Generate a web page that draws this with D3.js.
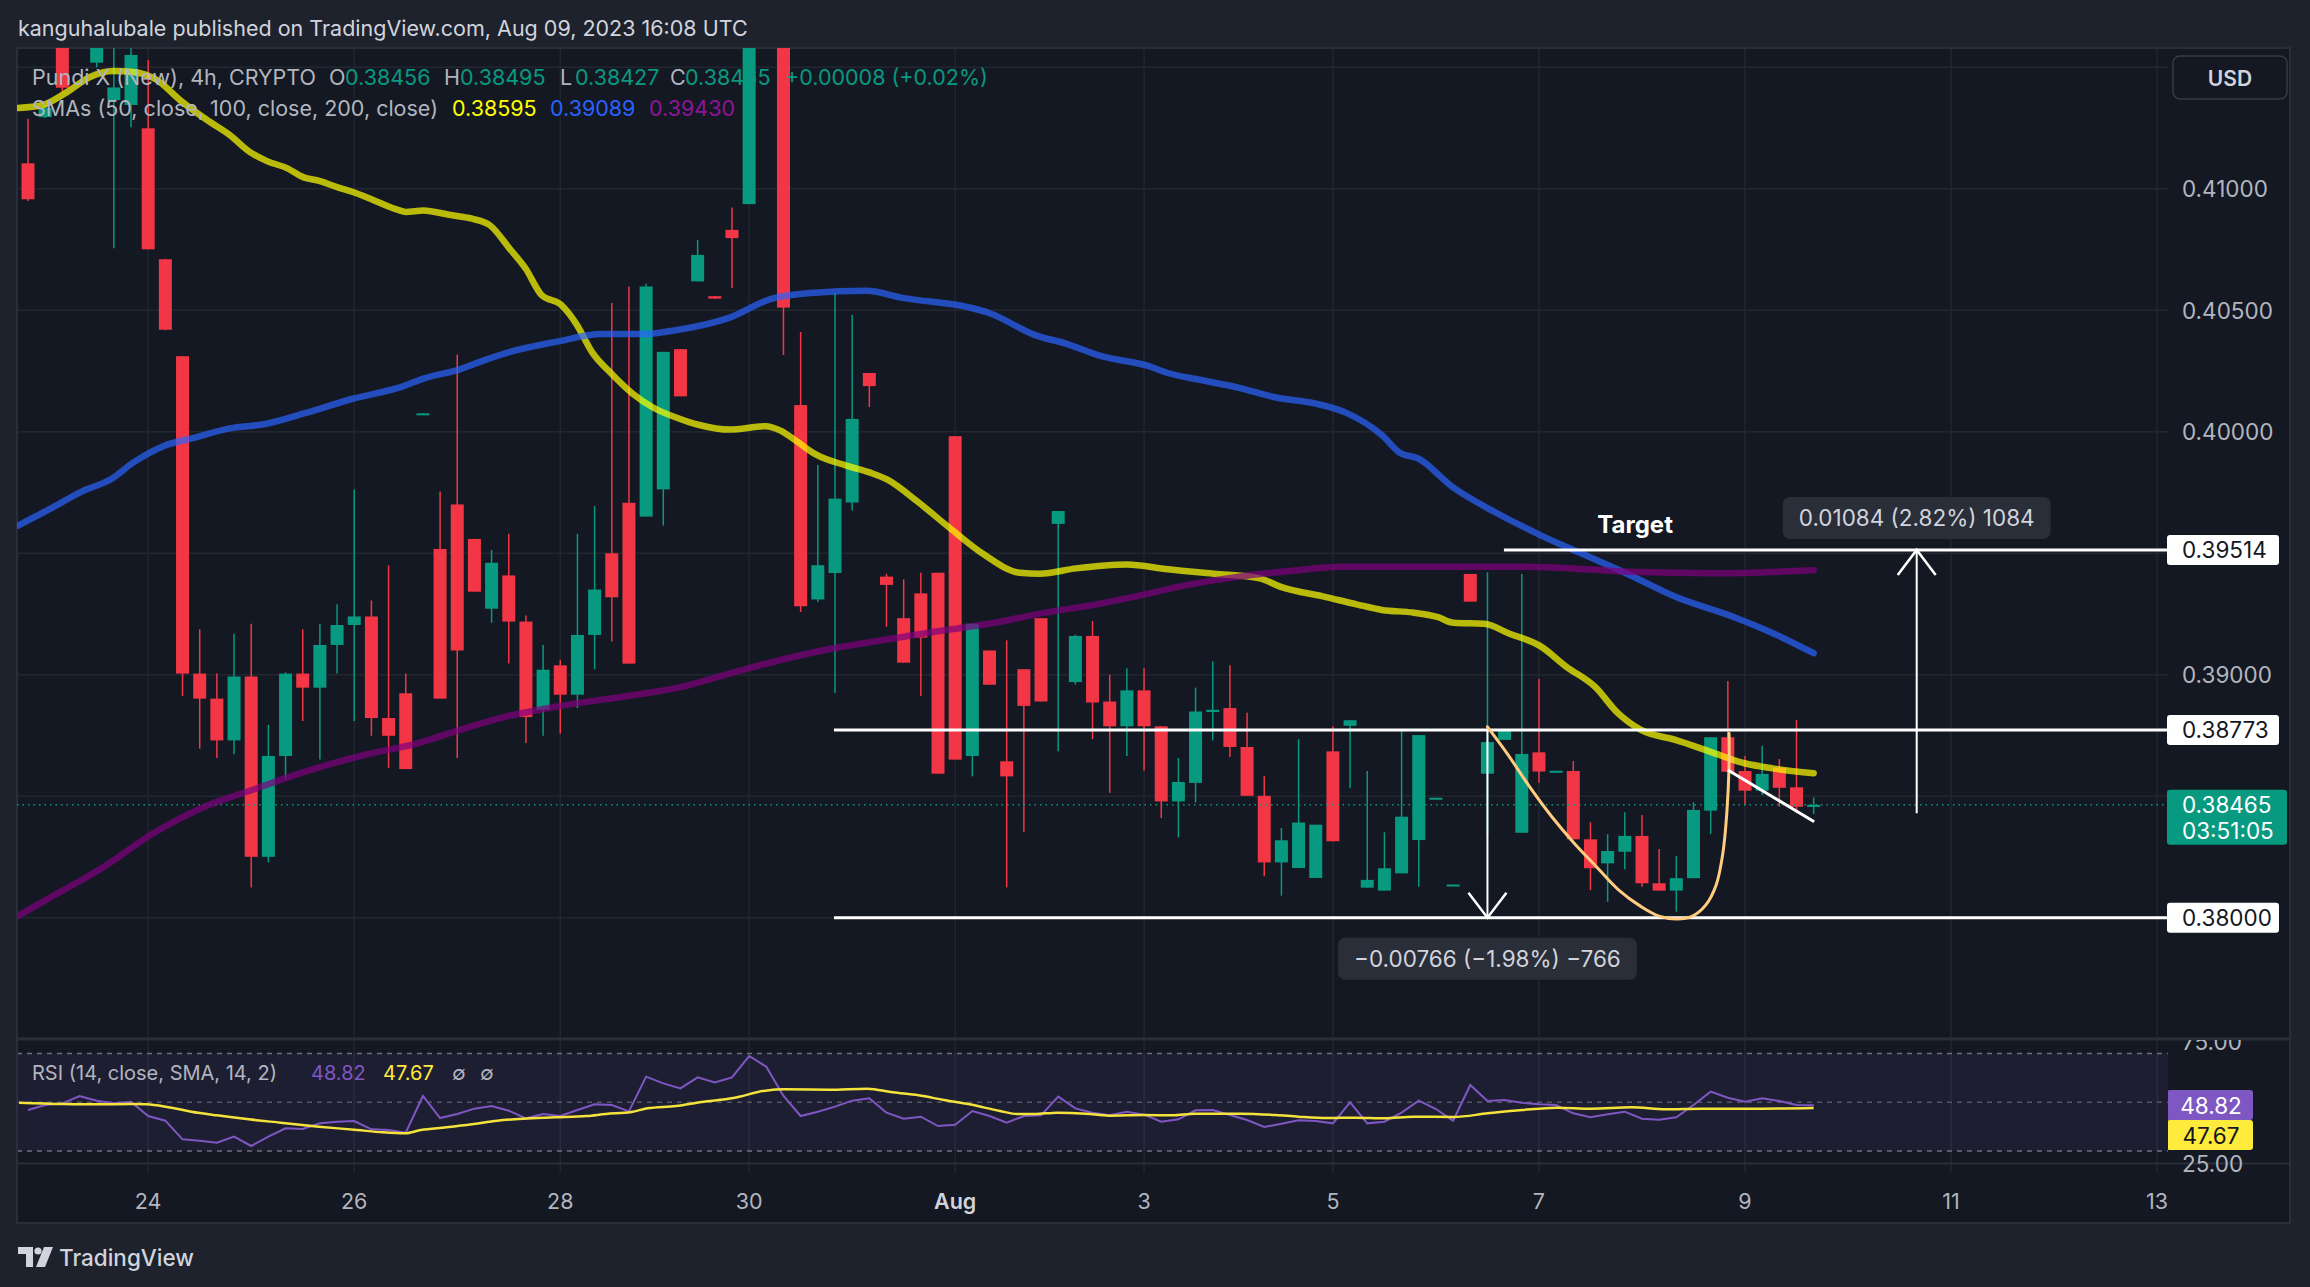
<!DOCTYPE html>
<html><head><meta charset="utf-8">
<script src="https://d3js.org/d3.v7.min.js"></script>
<style>
html,body{margin:0;padding:0;background:#1e222d;overflow:hidden;}
svg{display:block;}
text{font-family:Inter, Roboto, "Noto Sans", sans-serif;}
</style></head><body>
<svg id="c" width="2310" height="1287"></svg>
<script>
// ---------------- DATA ----------------
const opens=[0.41105,0.41295,0.4175,0.4200,0.41519,0.41365,0.41345,0.41249,0.40710,0.40311,
0.39005,0.38902,0.38730,0.38993,0.38251,0.38666,0.39005,0.38947,0.39123,0.39205,
0.39240,0.38822,0.38924,0.40070,0.39518,0.39701,0.39559,0.39272,0.39409,0.39219,
0.38856,0.39039,0.38918,0.39164,0.39500,0.39708,0.39651,0.39763,0.40340,0.40619,
0.40558,0.40831,0.40937,0.4185,0.4200,0.40110,0.39310,0.39419,0.39709,0.40242,
0.39404,0.39233,0.39335,0.39420,0.39982,0.38666,0.39100,0.38644,0.39023,0.39233,
0.39621,0.38970,0.39160,0.38890,0.38788,0.38936,0.38788,0.38479,0.38555,0.38847,
0.38863,0.38703,0.38502,0.38228,0.38205,0.38164,0.38685,0.38790,0.38124,0.38112,
0.38183,0.38320,0.38490,0.38133,0.39415,0.38593,0.38732,0.38350,0.38681,0.38601,
0.38604,0.38323,0.38224,0.38272,0.38337,0.38142,0.38112,0.38163,0.38441,0.38743,
0.38604,0.38523,0.38618,0.38537,0.38456];
const highs=[0.41288,0.41345,0.4180,0.4205,0.4170,0.4170,0.4162,0.41530,0.40712,0.40311,
0.39187,0.39005,0.39169,0.39210,0.38794,0.39010,0.39187,0.39210,0.39290,0.39763,
0.39306,0.39450,0.39005,0.40076,0.39754,0.40318,0.39560,0.39514,0.39580,0.39244,
0.39123,0.39062,0.39580,0.39694,0.40530,0.40598,0.40609,0.40329,0.40340,0.40790,
0.40558,0.40923,0.4190,0.4220,0.4205,0.40411,0.39863,0.40571,0.40482,0.40242,
0.39416,0.39393,0.39420,0.39420,0.39982,0.39210,0.39100,0.39142,0.39023,0.39233,
0.39674,0.39165,0.39221,0.39000,0.39027,0.39027,0.38788,0.38658,0.38947,0.39055,
0.39039,0.38844,0.38582,0.38370,0.38735,0.38383,0.38788,0.38813,0.38604,0.38352,
0.38773,0.38752,0.38494,0.38137,0.39415,0.39422,0.38773,0.39415,0.38983,0.38605,
0.38645,0.38393,0.38344,0.38434,0.38423,0.38283,0.38254,0.38475,0.38743,0.38975,
0.38666,0.38708,0.38654,0.38814,0.38495];
const lows=[0.40950,0.41290,0.41400,0.4185,0.41500,0.40755,0.41253,0.40751,0.40418,0.38913,
0.38696,0.38658,0.38673,0.38125,0.38228,0.38570,0.38810,0.38651,0.39005,0.38810,
0.38749,0.38617,0.38612,0.40070,0.38902,0.38658,0.39342,0.39214,0.39046,0.38719,
0.38749,0.38758,0.38863,0.39023,0.39137,0.39046,0.39651,0.39614,0.40146,0.40619,
0.40548,0.40592,0.40937,0.4180,0.40316,0.39258,0.39300,0.38925,0.39676,0.40102,
0.39198,0.39050,0.38913,0.38593,0.38651,0.38582,0.38959,0.38125,0.38354,0.38890,
0.38685,0.38960,0.38735,0.38514,0.38666,0.38605,0.38411,0.38331,0.38474,0.38730,
0.38662,0.38502,0.38171,0.38091,0.38205,0.38164,0.38315,0.38533,0.38124,0.38112,
0.38183,0.38128,0.38490,0.38133,0.39301,0.38340,0.38732,0.38350,0.38556,0.38601,
0.38323,0.38114,0.38066,0.38200,0.38128,0.38112,0.38025,0.38163,0.38345,0.38601,
0.38464,0.38505,0.38457,0.38430,0.38427];
const closes=[0.40957,0.41333,0.41416,0.4190,0.4166,0.41417,0.41551,0.40751,0.40420,0.39005,
0.38902,0.38730,0.38993,0.38251,0.38666,0.39005,0.38947,0.39123,0.39205,0.39240,
0.38822,0.38749,0.38612,0.40076,0.38902,0.39100,0.39342,0.39461,0.39219,0.38826,
0.39021,0.38918,0.39164,0.39351,0.39319,0.39046,0.40598,0.40329,0.40146,0.40728,
0.40548,0.40797,0.4185,0.4210,0.40511,0.39282,0.39451,0.39725,0.40053,0.40188,
0.39370,0.39050,0.39153,0.38593,0.38651,0.39210,0.38959,0.38582,0.38872,0.38890,
0.39674,0.39160,0.38886,0.38788,0.38936,0.38788,0.38479,0.38559,0.38849,0.38856,
0.38703,0.38502,0.38228,0.38319,0.38392,0.38383,0.38315,0.38813,0.38156,0.38204,
0.38416,0.38752,0.38494,0.38137,0.39301,0.38723,0.38773,0.38674,0.38602,0.38605,
0.38323,0.38204,0.38275,0.38337,0.38142,0.38112,0.38163,0.38444,0.38743,0.38601,
0.38523,0.38592,0.38535,0.38457,0.38465];

// SMA samples: [bar index, value]
const sma50=[[-0.58,0.41333],[0.87,0.41345],[2.27,0.41398],[3.61,0.41460],[4.95,0.41485],[6.12,0.41481],[7.51,0.41448],[8.85,0.41365],[10.43,0.41283],[11.76,0.41221],[12.93,0.41151],[13.92,0.41114],[15.08,0.41085],[16.02,0.41048],[17.0,0.41032],[18.0,0.41007],[18.93,0.40987],[20.1,0.40954],[21.55,0.40913],[22.0,0.40905],[23.03,0.40911],[24.52,0.40893],[25.86,0.40877],[26.9,0.40850],[28.07,0.40752],[28.98,0.40672],[29.92,0.40562],[31.04,0.40523],[31.94,0.40443],[32.84,0.40329],[34.0,0.40238],[35.2,0.40158],[36.4,0.40100],[37.9,0.40055],[39.1,0.40028],[40.86,0.40009],[42.94,0.40023],[43.83,0.40005],[44.73,0.39963],[45.88,0.39907],[47.66,0.39861],[49.0,0.39833],[50.03,0.39804],[51.82,0.39712],[53.6,0.39609],[55.68,0.39495],[57.76,0.39420],[58.94,0.39416],[61.04,0.39438],[64.0,0.39454],[66.38,0.39434],[69.06,0.39416],[71.73,0.39397],[72.92,0.39363],[75.6,0.39320],[77.37,0.39290],[78.86,0.39267],[80.65,0.39256],[82.12,0.39237],[83.02,0.39214],[84.8,0.39210],[86.29,0.39169],[88.06,0.39119],[89.6,0.39033],[91.26,0.38951],[92.6,0.38842],[93.94,0.38773],[95.95,0.38732],[97.96,0.38684],[99.97,0.38636],[101.6,0.38615],[104.0,0.38595]];
const sma100=[[-0.59,0.39614],[1.34,0.39685],[3.12,0.39754],[4.9,0.39808],[6.1,0.39872],[7.88,0.39941],[9.66,0.39975],[11.74,0.40014],[13.82,0.40032],[16.19,0.40078],[18.87,0.40135],[21.84,0.40187],[23.03,0.40219],[25.1,0.40256],[26.6,0.40295],[28.08,0.40329],[30.75,0.40370],[33.43,0.40402],[35.81,0.40402],[37.89,0.40420],[40.86,0.40470],[43.24,0.40546],[45.58,0.40571],[48.85,0.40580],[50.93,0.40551],[54.79,0.40512],[55.98,0.40489],[58.65,0.40398],[60.44,0.40363],[62.52,0.40311],[65.19,0.40272],[66.38,0.40242],[68.16,0.40215],[70.54,0.40181],[72.62,0.40142],[75.0,0.40116],[76.78,0.40078],[78.86,0.39986],[79.91,0.39913],[80.94,0.39891],[83.02,0.39770],[85.4,0.39671],[88.07,0.39575],[90.39,0.39502],[93.28,0.39411],[95.95,0.39321],[99.3,0.39239],[101.63,0.39171],[104.0,0.39089]];
const sma200=[[-0.76,0.38000],[1.05,0.38074],[4.31,0.38205],[7.28,0.38347],[10.25,0.38456],[13.22,0.38530],[15.0,0.38575],[17.39,0.38628],[19.76,0.38673],[22.74,0.38719],[25.1,0.38772],[27.49,0.38822],[31.04,0.38872],[34.92,0.38913],[37.89,0.38947],[40.86,0.39005],[43.83,0.39061],[46.77,0.39107],[49.74,0.39142],[52.71,0.39176],[56.28,0.39214],[59.25,0.39256],[62.22,0.39290],[64.59,0.39324],[67.56,0.39370],[70.53,0.39404],[73.5,0.39427],[76.47,0.39445],[79.44,0.39445],[82.41,0.39445],[85.38,0.39445],[88.35,0.39443],[93.28,0.39424],[98.29,0.39418],[104.0,0.39430]];

const rsiValues=[46.84,48.89,49.57,52.58,50.67,49.57,50.26,44.38,42.47,34.82,
34.27,33.45,35.91,32.09,35.91,39.33,39.05,41.38,42.06,42.33,
38.92,38.64,37.55,52.58,43.56,45.20,47.39,48.48,46.57,43.43,
45.20,44.38,46.84,49.16,48.89,46.29,60.50,57.77,55.72,60.23,
58.18,60.23,68.97,64.60,52.58,44.38,46.16,48.21,50.67,51.62,
45.75,43.29,44.11,40.28,40.83,46.43,44.38,41.65,44.38,44.66,
52.31,47.52,45.75,44.66,46.16,44.93,42.06,43.02,46.70,46.84,
44.79,42.74,39.87,41.24,42.61,42.33,41.38,49.98,41.38,42.06,
45.75,50.67,47.25,42.47,57.09,50.53,50.94,49.85,49.16,48.89,
45.48,43.84,45.07,46.16,43.29,42.88,43.84,48.89,54.36,51.90,
50.26,51.62,50.53,48.89,48.82];
const rsiSma=[[-0.52,49.85],[2.08,49.30],[3.94,49.16],[5.98,49.30],[6.91,49.16],[8.03,48.21],[9.51,46.16],[11.0,44.66],[12.86,43.02],[14.71,41.65],[16.94,40.01],[19.17,38.65],[20.66,37.69],[21.96,37.28],[22.88,38.65],[24.37,39.74],[25.85,40.97],[27.34,42.47],[28.83,43.29],[30.68,43.84],[32.54,44.38],[33.66,45.20],[35.14,46.02],[36.07,47.52],[37.74,48.48],[39.23,50.12],[41.08,51.76],[42.94,54.77],[44.05,55.31],[46.66,55.18],[48.88,55.59],[50.37,54.08],[51.86,52.85],[53.34,50.94],[54.83,49.16],[56.61,46.43],[57.61,45.20],[58.61,45.20],[59.95,45.75],[61.62,45.34],[62.96,44.52],[64.97,44.79],[66.64,44.66],[67.98,45.34],[70.65,45.34],[72.66,44.79],[74.0,44.11],[75.67,43.56],[77.34,43.70],[79.01,43.43],[80.68,44.11],[83.02,43.97],[85.03,45.48],[87.03,46.84],[89.04,47.80],[91.05,47.39],[93.39,47.93],[95.39,47.11],[97.4,47.39],[100.08,47.39],[104.0,47.67]];

const dayTickBars=[7,19,31,42,54,65,76,88,100,112,124];
const dayTickLabels=["24","26","28","30","Aug","3","5","7","9","11","13"];
const priceTicks=[0.380,0.385,0.390,0.395,0.400,0.405,0.410,0.415];
const rsiLevels=[70,50,30];
const rsiAxisTicks=[75,25];

// drawings
const hLevels=[0.39514,0.38773,0.38000];
const hLevelStartBars=[85.96,46.94,46.94];
const cupCurve=[[85.0,0.38786],[86.14,0.38677],[87.45,0.38540],[88.75,0.38416],[90.05,0.38307],[91.35,0.38210],[92.65,0.38114],[93.95,0.38046],[94.99,0.38007],[96.03,0.37995],[96.94,0.38007],[97.72,0.38053],[98.32,0.38135],[98.71,0.38265],[98.94,0.38430],[99.07,0.38622],[99.07,0.38759]];
const flagLine=[[99.0,0.38608],[104.03,0.38395]];
const measureBars=[85,110];
const measureFrom=[0.38773,0.38430];
const measureTo=[0.38000,0.39514];
const measureLabels=["\u22120.00766 (\u22121.98%) \u2212766","0.01084 (2.82%) 1084"];
const lastPrice=0.38465, lastOpen=0.38456, lastHigh=0.38495, lastLow=0.38427;
const smaLast=["0.38595","0.39089","0.39430"];
const rsiLast=[48.82,47.67];

// ---------------- DRAW ----------------
const W=2310,H=1287;
const P={l:17,r:2168,t:48,b:1038};
const R={t:1040,b:1163};
const AX={l:2168,r:2290};
const TEAL="#089981",RED="#f23645",BG="#141823",OUT="#1e222d",GRID="#22262f",TXT="#b2b5be";
const AXFS=22.5;
const svg=d3.select("#c");
const x=d3.scaleLinear().domain([0,124]).range([28,28+124*17.17]);
const y=d3.scaleLinear().domain([0.38,0.41]).range([917.8,188.8]);
const yr=d3.scaleLinear().domain([25,75]).range([1163.3,1041.3]);

svg.append("rect").attr("width",W).attr("height",H).attr("fill",OUT);
svg.append("rect").attr("x",17).attr("y",48).attr("width",AX.r-17).attr("height",1223-48).attr("fill",BG);

const defs=svg.append("defs");
defs.append("clipPath").attr("id","cp").append("rect").attr("x",P.l).attr("y",P.t).attr("width",P.r-P.l).attr("height",P.b-P.t);
defs.append("clipPath").attr("id","cr").append("rect").attr("x",P.l).attr("y",R.t).attr("width",P.r-P.l).attr("height",R.b-R.t);
defs.append("clipPath").attr("id","cx").append("rect").attr("x",P.l).attr("y",1163).attr("width",P.r-P.l).attr("height",60);
defs.append("clipPath").attr("id","ca").append("rect").attr("x",AX.l).attr("y",R.t).attr("width",AX.r-AX.l).attr("height",150);

// grid
const grid=svg.append("g");
grid.selectAll("line.h").data(priceTicks).join("line")
  .attr("x1",P.l).attr("x2",P.r).attr("y1",d=>y(d)).attr("y2",d=>y(d))
  .attr("stroke",GRID).attr("stroke-width",1.5);
grid.selectAll("line.v").data(dayTickBars).join("line")
  .attr("x1",d=>x(d)).attr("x2",d=>x(d)).attr("y1",P.t).attr("y2",1173)
  .attr("stroke",GRID).attr("stroke-width",1.5);

// RSI band
svg.append("rect").attr("x",P.l).attr("width",P.r-P.l).attr("y",yr(70)).attr("height",yr(30)-yr(70))
  .attr("fill","#7e57c2").attr("fill-opacity",0.1);
svg.append("g").selectAll("line").data(rsiLevels).join("line")
  .attr("x1",P.l).attr("x2",P.r).attr("y1",d=>yr(d)).attr("y2",d=>yr(d))
  .attr("stroke","#787b86").attr("stroke-width",1.5).attr("stroke-dasharray","5,5").attr("opacity",d=>d===50?0.6:0.9);

// separators & frame
svg.append("line").attr("x1",P.l).attr("x2",AX.r).attr("y1",1039).attr("y2",1039).attr("stroke","#2a2e39").attr("stroke-width",3);
svg.append("line").attr("x1",P.l).attr("x2",AX.r).attr("y1",1163.5).attr("y2",1163.5).attr("stroke","#2a2e39").attr("stroke-width",2);
svg.append("rect").attr("x",17).attr("y",48).attr("width",AX.r-17).attr("height",1223-48).attr("fill","none").attr("stroke","#2a2e39").attr("stroke-width",2);

// candles
const price=svg.append("g").attr("clip-path","url(#cp)");
const idx=d3.range(opens.length);
const cg=price.append("g");
cg.selectAll("line").data(idx).join("line")
  .attr("x1",i=>x(i)).attr("x2",i=>x(i)).attr("y1",i=>y(highs[i])).attr("y2",i=>y(lows[i]))
  .attr("stroke",i=>closes[i]>=opens[i]?TEAL:RED).attr("stroke-width",1.5);
cg.selectAll("rect").data(idx).join("rect")
  .attr("x",i=>x(i)-6.5).attr("width",13)
  .attr("y",i=>y(Math.max(opens[i],closes[i])))
  .attr("height",i=>Math.max(2,Math.abs(y(opens[i])-y(closes[i]))))
  .attr("fill",i=>closes[i]>=opens[i]?TEAL:RED);

// last price dotted line
price.append("line").attr("x1",P.l).attr("x2",P.r).attr("y1",y(lastPrice)).attr("y2",y(lastPrice))
  .attr("stroke",TEAL).attr("stroke-width",1.5).attr("stroke-dasharray","1.5,4");

// SMAs
const lineP=d3.line().x(d=>x(d[0])).y(d=>y(d[1])).curve(d3.curveMonotoneX);
[[sma50,"#ffff00"],[sma100,"#2962ff"],[sma200,"#800080"]].forEach(([d,c])=>{
  price.append("path").attr("d",lineP(d)).attr("fill","none").attr("stroke",c)
    .attr("stroke-opacity",0.7).attr("stroke-width",6.5).attr("stroke-linejoin","round").attr("stroke-linecap","round");
});

// drawings
const dr=price.append("g");
hLevels.forEach((v,k)=>{
  dr.append("line").attr("x1",x(hLevelStartBars[k])).attr("x2",P.r).attr("y1",y(v)).attr("y2",y(v))
    .attr("stroke","#ffffff").attr("stroke-width",3);
});
dr.append("path").attr("d",d3.line().x(d=>x(d[0])).y(d=>y(d[1])).curve(d3.curveCatmullRom)(cupCurve))
  .attr("fill","none").attr("stroke","#ffcc80").attr("stroke-width",3).attr("stroke-linecap","round");
dr.append("path").attr("d",d3.line().x(d=>x(d[0])).y(d=>y(d[1]))(flagLine))
  .attr("fill","none").attr("stroke","#ffffff").attr("stroke-width",3);
measureBars.forEach((b,k)=>{
  const xx=x(b), y0=y(measureFrom[k]), y1=y(measureTo[k]);
  dr.append("line").attr("x1",xx).attr("x2",xx).attr("y1",y0).attr("y2",y1).attr("stroke","#fff").attr("stroke-width",2);
  const dir=y1>y0?-1:1;
  dr.append("path").attr("d",`M${xx-19},${y1+dir*25}L${xx},${y1}L${xx+19},${y1+dir*25}`)
    .attr("fill","none").attr("stroke","#fff").attr("stroke-width",2.5);
});
// measure labels
const ml=svg.append("g");
measureBars.forEach((b,k)=>{
  const xx=x(b);
  const up=measureTo[k]>measureFrom[k];
  const cy= up ? y(measureTo[k])-32 : y(measureTo[k])+41;
  const t=ml.append("text").attr("x",xx).attr("y",cy).attr("text-anchor","middle").attr("dominant-baseline","central")
    .attr("fill","#d1d4dc").attr("font-size",22.5).text(measureLabels[k]);
  const w=t.node().getComputedTextLength()+32;
  ml.insert("rect","text").attr("x",xx-w/2).attr("y",cy-21).attr("width",w).attr("height",42).attr("rx",7).attr("fill","#2a2e39");
});
svg.append("text").attr("x",x(93.6)).attr("y",y(hLevels[0])-17).attr("text-anchor","middle")
  .attr("fill","#ffffff").attr("font-size",24).attr("font-weight",700).text("Target");

// RSI
const rg=svg.append("g").attr("clip-path","url(#cr)");
rg.append("path").attr("d",d3.line().x((d,i)=>x(i)).y(d=>yr(d))(rsiValues))
  .attr("fill","none").attr("stroke","#7e57c2").attr("stroke-width",2);
rg.append("path").attr("d",d3.line().x(d=>x(d[0])).y(d=>yr(d[1])).curve(d3.curveMonotoneX)(rsiSma))
  .attr("fill","none").attr("stroke","#f5e33b").attr("stroke-width",2.5);

// price axis: labels hidden where a marker box sits (as the platform does)
const ax=svg.append("g");
const boxYs=hLevels.map(v=>y(v)).concat([y(lastPrice)+10]);
const visibleTicks=priceTicks.filter(t=>y(t)>105 && boxYs.every(b=>Math.abs(y(t)-b)>(b===y(lastPrice)+10?33:24)));
ax.selectAll("text").data(visibleTicks).join("text")
  .attr("x",2182).attr("y",d=>y(d)).attr("dominant-baseline","central")
  .attr("fill",TXT).attr("font-size",AXFS).text(d=>d.toFixed(5));
hLevels.forEach(v=>{
  ax.append("rect").attr("x",2167).attr("y",y(v)-15).attr("width",112).attr("height",30).attr("rx",3).attr("fill","#ffffff");
  ax.append("text").attr("x",2182).attr("y",y(v)).attr("dominant-baseline","central").attr("fill","#131722").attr("font-size",AXFS).text(v.toFixed(5));
});
ax.append("rect").attr("x",2167).attr("y",y(lastPrice)-15).attr("width",120).attr("height",55).attr("rx",3).attr("fill",TEAL);
ax.append("text").attr("x",2182).attr("y",y(lastPrice)).attr("dominant-baseline","central").attr("fill","#ffffff").attr("font-size",AXFS).text(lastPrice.toFixed(5));
ax.append("text").attr("x",2182).attr("y",y(lastPrice)+26).attr("dominant-baseline","central").attr("fill","#ffffff").attr("font-size",AXFS).text("03:51:05");
ax.append("rect").attr("x",2173).attr("y",56).attr("width",114).attr("height",43).attr("rx",7).attr("fill",BG).attr("stroke","#363a45").attr("stroke-width",1.5);
ax.append("text").attr("x",2230).attr("y",78).attr("text-anchor","middle").attr("dominant-baseline","central").attr("fill","#d1d4dc").attr("font-size",21).attr("font-weight",600).text("USD");

// RSI axis
const ra=svg.append("g").attr("clip-path","url(#ca)");
ra.selectAll("text").data(rsiAxisTicks).join("text").attr("x",2182).attr("y",d=>yr(d)).attr("dominant-baseline","central")
  .attr("fill",TXT).attr("font-size",AXFS).text(d=>d.toFixed(2));
ra.append("rect").attr("x",2167).attr("y",1090).attr("width",86).attr("height",30).attr("rx",3).attr("fill","#7e57c2");
ra.append("text").attr("x",2211).attr("y",1105).attr("text-anchor","middle").attr("dominant-baseline","central").attr("fill","#fff").attr("font-size",AXFS).text(rsiLast[0].toFixed(2));
ra.append("rect").attr("x",2167).attr("y",1120).attr("width",86).attr("height",30).attr("rx",3).attr("fill","#ffeb3b");
ra.append("text").attr("x",2211).attr("y",1135).attr("text-anchor","middle").attr("dominant-baseline","central").attr("fill","#131722").attr("font-size",AXFS).text(rsiLast[1].toFixed(2));

// x axis
svg.append("g").attr("clip-path","url(#cx)").selectAll("text").data(dayTickBars).join("text")
  .attr("x",d=>x(d)).attr("y",1201).attr("text-anchor","middle").attr("dominant-baseline","central")
  .attr("font-size",21.5).attr("fill",(d,i)=>dayTickLabels[i]==="Aug"?"#d1d4dc":TXT)
  .attr("font-weight",(d,i)=>dayTickLabels[i]==="Aug"?600:400)
  .text((d,i)=>dayTickLabels[i]);

// header & legends
svg.append("text").attr("x",18).attr("y",36).attr("fill","#d1d4dc").attr("font-size",21.5)
  .text("kanguhalubale published on TradingView.com, Aug 09, 2023 16:08 UTC");
function seg(yb,fs,parts){
  const t=svg.append("text").attr("y",yb).attr("font-size",fs);
  parts.forEach(p=>t.append("tspan").attr("x",p[0]).attr("fill",p[2]).text(p[1]));
}
const chg=lastPrice-0.38457;
seg(85,21.5,[[32,"Pundi X (New), 4h, CRYPTO",TXT],[329,"O",TXT],[345,lastOpen.toFixed(5),TEAL],[444,"H",TXT],[460,lastHigh.toFixed(5),TEAL],
  [560,"L",TXT],[575,lastLow.toFixed(5),TEAL],[670,"C",TXT],[685,lastPrice.toFixed(5),TEAL],[785,"+"+chg.toFixed(5)+" (+0.02%)",TEAL]]);
seg(116,21.5,[[32,"SMAs (50, close, 100, close, 200, close)",TXT],[452,smaLast[0],"#ffff00"],[550,smaLast[1],"#2962ff"],[649,smaLast[2],"#8e1599"]]);
seg(1080,20,[[32,"RSI (14, close, SMA, 14, 2)",TXT],[311,rsiLast[0].toFixed(2),"#7e57c2"],[383,rsiLast[1].toFixed(2),"#ffeb3b"],[452,"\u2205",TXT],[480,"\u2205",TXT]]);

// footer logo
const lg=svg.append("g").attr("fill","#d1d4dc");
lg.append("path").attr("d","M18,1247H33V1267H26V1254H18Z");
lg.append("circle").attr("cx",38).attr("cy",1251).attr("r",3.6);
lg.append("path").attr("d","M44,1247H53L45,1267H36Z");
svg.append("text").attr("x",59).attr("y",1266).attr("fill","#d1d4dc").attr("font-size",22.5).attr("font-weight",500).text("TradingView");
</script></body></html>
